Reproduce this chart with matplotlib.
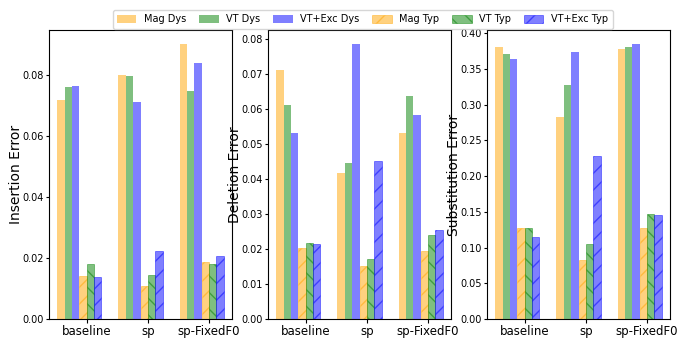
#!/usr/bin/env python3
"""Insertion / deletion / substitution error for the three systems, dys vs typ."""
import matplotlib
matplotlib.use("Agg")
import matplotlib.pyplot as plt
import numpy as np
from matplotlib.ticker import MultipleLocator, FormatStrFormatter

systems = ["baseline", "sp", "sp-FixedF0"]
models = ["Mag", "VT", "VT+Exc"]

# rows: Mag, VT, VT+Exc ; columns: baseline, sp, sp-FixedF0
ins_dys = [[0.0718, 0.0800, 0.0901],
           [0.0761, 0.0797, 0.0748],
           [0.0764, 0.0709, 0.0839]]
ins_typ = [[0.0141, 0.0108, 0.0187],
           [0.0180, 0.0144, 0.0180],
           [0.0138, 0.0221, 0.0207]]

del_dys = [[0.0712, 0.0417, 0.0531],
           [0.0613, 0.0445, 0.0639],
           [0.0531, 0.0787, 0.0582]]
del_typ = [[0.0203, 0.0151, 0.0194],
           [0.0217, 0.0171, 0.0240],
           [0.0214, 0.0453, 0.0254]]

sub_dys = [[0.381, 0.283, 0.378],
           [0.371, 0.328, 0.381],
           [0.363, 0.374, 0.385]]
sub_typ = [[0.1276, 0.0827, 0.1276],
           [0.1276, 0.1056, 0.1472],
           [0.1150, 0.2280, 0.1449]]

colors = ["orange", "green", "blue"]
hatches = ["//", "\\\\", "//"]

panels = [("Insertion Error", ins_dys, ins_typ, 0.02),
          ("Deletion Error", del_dys, del_typ, 0.01),
          ("Substitution Error", sub_dys, sub_typ, 0.05)]

W, H = 683, 338
fig = plt.figure(figsize=(W / 100, H / 100), dpi=100)
lefts = [49, 268, 487]
x = np.arange(len(systems))
w = 0.12

for left, (ylab, dys, typ, step) in zip(lefts, panels):
    ax = fig.add_axes([left / W, 19 / H, 183 / W, 289 / H])
    for i, (m, c) in enumerate(zip(models, colors)):
        ax.bar(x + (i - 4) * w, dys[i], w, align="edge", color=c, alpha=0.5,
               lw=0, label=f"{m} Dys")
    for i, (m, c, h) in enumerate(zip(models, colors, hatches)):
        ax.bar(x + (i - 1) * w, typ[i], w, align="edge", color=c, alpha=0.5,
               edgecolor=c, lw=0.6, hatch=h, label=f"{m} Typ")
    ax.set_xticks(x)
    ax.set_xticklabels(systems, fontsize=8.5)
    ax.yaxis.set_major_locator(MultipleLocator(step))
    ax.yaxis.set_major_formatter(FormatStrFormatter("%.2f"))
    ax.tick_params(axis="y", labelsize=7, length=2.5, pad=1)
    ax.tick_params(axis="x", length=3, pad=1)
    ax.set_ylabel(ylab, fontsize=10, labelpad=-0.5)

handles, labels = ax.get_legend_handles_labels()
fig.legend(handles, labels, loc="upper center", bbox_to_anchor=(0.531, 0.985),
           ncol=6, fontsize=7, columnspacing=1.3, handletextpad=0.8,
           handleheight=1.0, borderpad=0.45)

fig.savefig("out.png", dpi=100)
